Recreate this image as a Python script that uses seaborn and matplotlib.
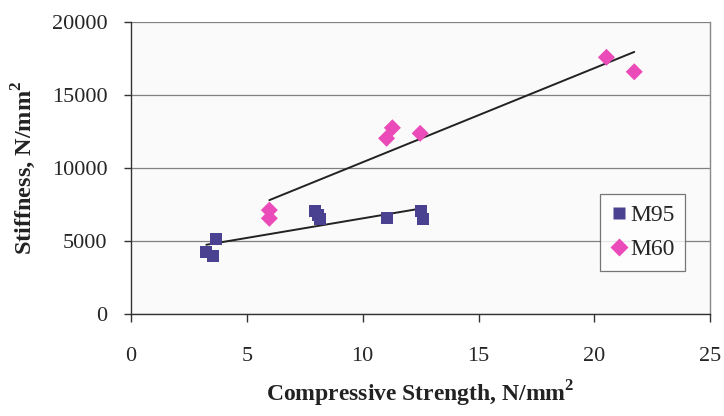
import matplotlib
matplotlib.use("Agg")
import matplotlib.pyplot as plt
import seaborn as sns
import pandas as pd
import numpy as np

# Data
m95_strength = [3.25, 3.55, 3.68, 7.92, 8.05, 8.14, 11.04, 12.51, 12.6]
m95_stiffness = [4240, 3970, 5130, 7045, 6770, 6500, 6565, 7045, 6500]
m60_strength = [5.97, 5.97, 11.03, 11.28, 12.48, 20.52, 21.72]
m60_stiffness = [7110, 6550, 12020, 12740, 12360, 17560, 16570]
series_names = ["M95", "M60"]
x_ticks = [0, 5, 10, 15, 20, 25]
y_ticks = [0, 5000, 10000, 15000, 20000]

df = pd.DataFrame({
    "strength": m95_strength + m60_strength,
    "stiffness": m95_stiffness + m60_stiffness,
    "mix": [series_names[0]] * len(m95_strength) + [series_names[1]] * len(m60_strength),
})

sns.set_theme(style="white")
plt.rcParams["font.family"] = ["Liberation Serif", "DejaVu Serif"]
plt.rcParams["mathtext.fontset"] = "custom"
plt.rcParams["mathtext.rm"] = "Liberation Serif"
plt.rcParams["mathtext.bf"] = "Liberation Serif:bold"

colors = {"M95": "#4A4290", "M60": "#EA4BB8"}
markers = {"M95": "s", "M60": "D"}

fig = plt.figure(figsize=(7.24, 4.16), dpi=100)
ax = fig.add_axes([0.181, 0.245, 0.800, 0.703])
ax.set_facecolor("#FAFAFA")

for name in series_names:
    sub = df[df["mix"] == name]
    sns.regplot(data=sub, x="strength", y="stiffness", scatter=False, ci=None,
                truncate=True, ax=ax, line_kws={"color": "#222222", "lw": 1.4, "zorder": 2})

sns.scatterplot(data=df, x="strength", y="stiffness", hue="mix", style="mix",
                palette=colors, markers=markers, s=75, edgecolor="none",
                ax=ax, zorder=3, legend=True)

ax.set_xlim(0, 25)
ax.set_ylim(0, 20000)
ax.set_xticks(x_ticks)
ax.set_yticks(y_ticks)
ax.set_xticklabels([str(t) for t in x_ticks], fontsize=16)
ax.set_yticklabels([str(t) for t in y_ticks], fontsize=16)
ax.yaxis.grid(True, color="#808080", lw=0.9)
ax.xaxis.grid(False)
ax.set_axisbelow(True)

for side in ["left", "bottom"]:
    ax.spines[side].set_color("#333333")
    ax.spines[side].set_linewidth(1.0)
ax.spines["top"].set_visible(False)
ax.spines["right"].set_color("#888888")
ax.spines["right"].set_linewidth(1.0)

ax.tick_params(axis="x", direction="out", length=6, width=1, color="#333333", pad=18, bottom=True)
ax.tick_params(axis="y", direction="out", length=5, width=1, color="#333333", pad=12, left=True)

ax.set_xlabel(r"Compressive Strength, N/mm$^{\mathbf{2}}$", fontsize=17, fontweight="bold",
              labelpad=9, color="#222222")
ax.set_ylabel(r"Stiffness, N/mm$^{\mathbf{2}}$", fontsize=17.5, fontweight="bold",
              labelpad=10, color="#222222")

handles, labels = ax.get_legend_handles_labels()
leg = ax.legend(handles, labels, loc="lower right", bbox_to_anchor=(0.957, 0.147),
                borderaxespad=0, fontsize=17, frameon=True, fancybox=False, edgecolor="#555555",
                handletextpad=0.15, handlelength=0.7, borderpad=0.45, labelspacing=0.55,
                markerscale=1.0)
leg.get_frame().set_facecolor("white")
leg.get_frame().set_linewidth(0.9)

fig.savefig("out.png", dpi=100, facecolor="white")
